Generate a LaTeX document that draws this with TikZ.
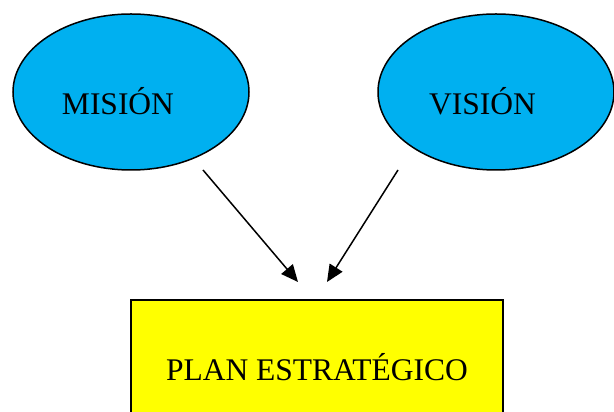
\documentclass[tikz,border=0pt]{standalone}
\usepackage{fontspec}
\setmainfont{Liberation Serif}
\usetikzlibrary{shapes.geometric, arrows.meta}
\definecolor{celeste}{HTML}{00B0F0}
\definecolor{amarillo}{HTML}{FFFF00}

\begin{document}
\begin{tikzpicture}[x=1pt, y=1pt,
  idea/.style={ellipse, draw, line width=1.5pt, fill=celeste, minimum width=236, minimum height=156, inner sep=0},
  plan/.style={rectangle, draw, line width=1.5pt, fill=amarillo, minimum width=372, minimum height=134, inner sep=0},
  texto/.style={font=\fontsize{31.5}{36}\selectfont, inner sep=0},
  flecha/.style={line width=1.5pt, -{Triangle[length=17pt, width=15pt]}}]
\useasboundingbox (0, 0) rectangle (614, 412);
\node [idea] (mision) at (131, 320) {};
\node [idea] (vision) at (496, 320) {};
\node [plan] (plan) at (317, 45) {};
%Text
\node [texto] (mision-t) at (118, 311) {MISIÓN};
\node [texto] (vision-t) at (482.5, 311) {VISIÓN};
\node [texto] (plan-t) at (plan.center) {PLAN ESTRATÉGICO};
%Arrows
\coordinate (a1) at (203, 242);
\coordinate (b1) at (298, 130);
\coordinate (a2) at (398, 242);
\coordinate (b2) at (327, 130);
\draw [flecha] (a1) -- (b1);
\draw [flecha] (a2) -- (b2);
\end{tikzpicture}
\end{document}
